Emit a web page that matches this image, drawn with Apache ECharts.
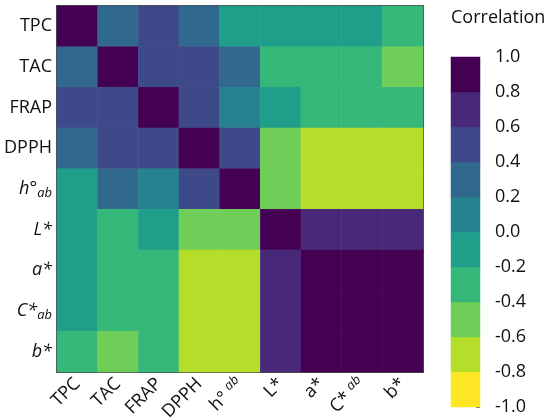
<!DOCTYPE html>
<html>
<head>
<meta charset="utf-8">
<script src="https://cdn.jsdelivr.net/npm/echarts@6/dist/echarts.min.js"></script>
<style>
  html, body { margin: 0; padding: 0; background: #fff; }
  #chart { width: 550px; height: 420px; }
</style>
</head>
<body>
<div id="chart"></div>
<script>
// variable keys, top to bottom / left to right
const vars = ['TPC', 'TAC', 'FRAP', 'DPPH', 'h', 'L', 'a', 'C', 'b'];

// correlation matrix, rows in the same order as vars
const rowTPC  = [1.00, 0.31, 0.48, 0.29, -0.12, -0.08, -0.11, -0.10, -0.27];
const rowTAC  = [0.31, 1.00, 0.52, 0.46, 0.25, -0.33, -0.30, -0.31, -0.45];
const rowFRAP = [0.48, 0.52, 1.00, 0.50, 0.12, -0.15, -0.28, -0.29, -0.31];
const rowDPPH = [0.29, 0.46, 0.50, 1.00, 0.45, -0.52, -0.72, -0.71, -0.73];
const rowH    = [-0.12, 0.25, 0.12, 0.45, 1.00, -0.48, -0.70, -0.69, -0.71];
const rowL    = [-0.08, -0.33, -0.15, -0.52, -0.48, 1.00, 0.68, 0.69, 0.67];
const rowA    = [-0.11, -0.30, -0.28, -0.72, -0.70, 0.68, 1.00, 0.99, 0.97];
const rowC    = [-0.10, -0.31, -0.29, -0.71, -0.69, 0.69, 0.99, 1.00, 0.98];
const rowB    = [-0.27, -0.45, -0.31, -0.73, -0.71, 0.67, 0.97, 0.98, 1.00];
const matrix = [rowTPC, rowTAC, rowFRAP, rowDPPH, rowH, rowL, rowA, rowC, rowB];

// colour scale: bin edges (also the colour bar tick labels) and bin colours, low to high
const binEdges = [-1.0, -0.8, -0.6, -0.4, -0.2, 0.0, 0.2, 0.4, 0.6, 0.8, 1.0];
const binColors = ['#fde725', '#b5de2b', '#6ece58', '#35b779', '#1f9e89',
                   '#26828e', '#31688e', '#3e4989', '#482878', '#440154'];

const FONT = 'Open Sans';

const heatData = [];
matrix.forEach((row, r) => row.forEach((v, c) => heatData.push([c, r, v])));

const pieces = binColors.map((color, i) => i === 0
  ? { gte: binEdges[i], lte: binEdges[i + 1], color }
  : { gt: binEdges[i], lte: binEdges[i + 1], color });

const barData = binColors.map((_, i) => [0, i, (binEdges[i] + binEdges[i + 1]) / 2]);

// label rich text
const yLabel = {
  TPC: 'TPC', TAC: 'TAC', FRAP: 'FRAP', DPPH: 'DPPH',
  h: '{it|h}{n|°}{sub|ab}', L: '{it|L*}', a: '{it|a*}', C: '{it|C*}{sub|ab}', b: '{it|b*}'
};
const xLabel = {
  TPC: 'TPC', TAC: 'TAC', FRAP: 'FRAP', DPPH: 'DPPH',
  h: '{n|h° }{sup|ab}', L: 'L*', a: 'a*', C: '{n|C* }{sup|ab}', b: 'b*'
};

const edgeLine = { show: true, lineStyle: { color: '#111', width: 1.5 } };

const chart = echarts.init(document.getElementById('chart'));
chart.setOption({
  backgroundColor: '#fff',
  animation: false,
  textStyle: { fontFamily: FONT },
  grid: [
    { left: 57, top: 6, width: 366, height: 366, outerBoundsMode: 'none', containLabel: false },
    { left: 451, top: 57, width: 29, height: 350, outerBoundsMode: 'none', containLabel: false }
  ],
  graphic: [{
    type: 'text', left: 451, top: 9,
    style: { text: 'Correlation', fontFamily: FONT, fontSize: 18, fill: '#111' }
  }],
  xAxis: [
    {
      type: 'category', gridIndex: 0, data: vars, position: 'bottom',
      axisLine: edgeLine, axisTick: { show: false },
      axisLabel: {
        rotate: 45, margin: 9, color: '#111', fontSize: 18, fontFamily: FONT,
        formatter: v => xLabel[v],
        rich: {
          n: { fontSize: 18, fontFamily: FONT, color: '#111' },
          sup: { fontSize: 13, fontStyle: 'italic', fontFamily: FONT, color: '#111', padding: [0, 0, 9, 0] }
        }
      }
    },
    {
      type: 'category', gridIndex: 0, data: vars, position: 'top',
      axisLine: edgeLine, axisTick: { show: false }, axisLabel: { show: false }
    },
    {
      type: 'category', gridIndex: 1, data: ['c'],
      axisLine: { show: false }, axisTick: { show: false }, axisLabel: { show: false }
    }
  ],
  yAxis: [
    {
      type: 'category', gridIndex: 0, data: vars, inverse: true, position: 'left',
      axisLine: edgeLine, axisTick: { show: false },
      axisLabel: {
        margin: 5, color: '#111', fontSize: 18, fontFamily: FONT,
        formatter: v => yLabel[v],
        rich: {
          it: { fontSize: 18, fontStyle: 'italic', fontFamily: FONT, color: '#111' },
          n: { fontSize: 18, fontFamily: FONT, color: '#111' },
          sub: { fontSize: 13, fontStyle: 'italic', fontFamily: FONT, color: '#111', padding: [9, 0, 0, 0] }
        }
      }
    },
    {
      type: 'category', gridIndex: 0, data: vars, inverse: true, position: 'right',
      axisLine: edgeLine, axisTick: { show: false }, axisLabel: { show: false }
    },
    {
      type: 'category', gridIndex: 1, data: binColors.map((_, i) => i),
      axisLine: { show: false }, axisTick: { show: false }, axisLabel: { show: false }
    },
    {
      type: 'value', gridIndex: 1, position: 'right', min: -1, max: 1, interval: 0.2,
      splitLine: { show: false },
      axisLine: { show: false },
      axisTick: { show: true, inside: true, length: 4, lineStyle: { color: '#5a6fa0', width: 1 } },
      axisLabel: {
        margin: 15, color: '#111', fontSize: 18, fontFamily: FONT,
        formatter: v => v.toFixed(1)
      }
    }
  ],
  visualMap: {
    type: 'piecewise', show: false, dimension: 2, seriesIndex: [0, 1], pieces
  },
  series: [
    {
      type: 'heatmap', xAxisIndex: 0, yAxisIndex: 0, data: heatData,
      itemStyle: { borderColor: 'rgba(255,255,255,0.06)', borderWidth: 0.5 },
      emphasis: { disabled: true }
    },
    {
      type: 'heatmap', xAxisIndex: 2, yAxisIndex: 2, data: barData,
      emphasis: { disabled: true }
    }
  ]
});
</script>
</body>
</html>
